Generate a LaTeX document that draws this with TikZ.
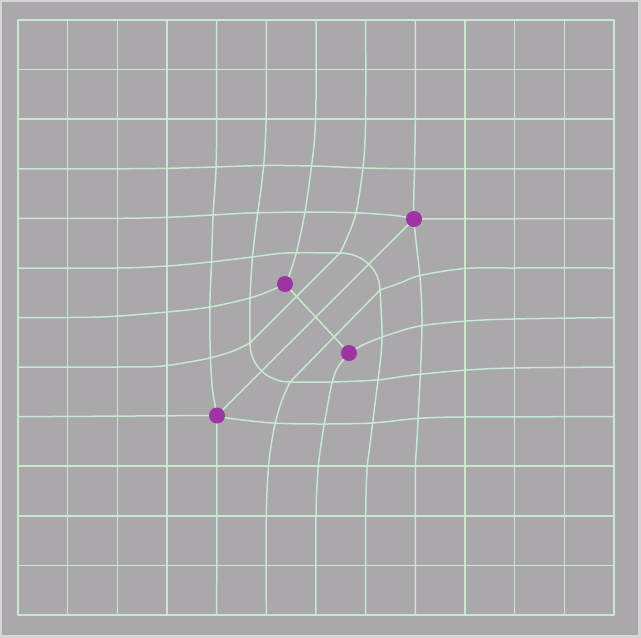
\documentclass[tikz,border=0pt]{standalone}
\definecolor{rimc}{RGB}{214,214,214}
\definecolor{bgc}{RGB}{170,168,170}
\definecolor{gl}{RGB}{198,233,208}
\definecolor{dotc}{RGB}{158,52,163}
\begin{document}
\begin{tikzpicture}[x=1pt,y=-1pt,
  gridline/.style={gl, line width=1.5pt, line join=round, line cap=round},
  sm/.style={gridline, smooth, tension=0.55},
  dot/.style={circle, fill=dotc, inner sep=0pt, minimum size=16pt}]
\useasboundingbox (0,0) rectangle (641,638);
\fill[rimc] (0,0) rectangle (641,638);
\fill[bgc] (2,2) rectangle (638,635);
% straight grid lines
\foreach \x in {18,67.7,117.3,167,465,514.7,564.3,614}
  \draw[gridline] (\x,20) -- (\x,615);
\foreach \y in {20,69.6,119.2,466.2,515.8,565.4,615}
  \draw[gridline] (18,\y) -- (614,\y);
% control points
\coordinate (p1) at (414,219);
\coordinate (p2) at (285,284);
\coordinate (p3) at (349,353);
\coordinate (p4) at (217,415.5);
% warped rows
\draw[sm] plot coordinates {(18,168.8) (117,168.8) (167,168.3) (215,167) (265,165.5) (313,166) (365,168) (415,168.8) (465,168.8) (614,168.8)};
\draw[sm] plot coordinates {(18,218.3) (117,218.3) (167,217.3) (213,215) (250,213) (313,212) (360,213) (395,215.5) (414,219)};
\draw[gridline] (p1) -- (614,218.5);
\draw[sm] plot coordinates {(18,268) (117,268) (167,266) (210,262) (252,257) (287,253) (340,253)};
\draw[gridline] (340,253) .. controls (363,253) and (380,270) .. (380,290);
\draw[sm] plot coordinates {(380,290) (400,283) (420,275.5) (465,268.5) (515,268) (614,268)};
\draw[sm] plot coordinates {(18,317.5) (100,317) (167,312) (210,307) (250,298) (272,290) (285,284)};
\draw[sm] plot coordinates {(349,353) (367,343) (397,332) (423,325.5) (467,321) (513,319) (614,317.5)};
\draw[sm] plot coordinates {(18,367) (117,367) (157,366.5) (183,363) (210,358) (233,351) (250,343)};
\draw[sm] plot coordinates {(290,382) (330,382) (377,380) (413,375) (467,370) (513,368) (614,367)};
\draw[gridline] (18,416.7) -- (p4);
\draw[sm] plot coordinates {(217,415.5) (227,418) (273,423) (323,424) (372,423) (417,418.5) (465,417) (614,416.7)};
% warped columns
\draw[sm] plot coordinates {(216.7,20) (216.7,119) (216,169) (213,217) (211.5,263) (210,300) (210,340) (212,385) (217,415.5)};
\draw[gridline] (p4) -- (216.7,615);
\draw[sm] plot coordinates {(266.3,20) (266.3,110) (264.5,155) (261.5,185) (257.5,215) (252.5,257) (250,300) (250,343)};
\draw[gridline] (250,343) .. controls (250,366) and (268,382) .. (290,382);
\draw[sm] plot coordinates {(290,382) (282,400) (276,420) (272,440) (268.5,467) (266.3,516) (266.3,615)};
\draw[sm] plot coordinates {(316,20) (316,100) (314.5,140) (311,170) (305,212) (297,250) (289,276) (285,284)};
\draw[sm] plot coordinates {(349,353) (338,367) (332,383) (325,420) (321,445) (318,470) (316,516) (316,615)};
\draw[sm] plot coordinates {(365.7,20) (365.7,110) (364.8,145) (362.5,172) (356,213) (347,238) (340,253)};
\draw[sm] plot coordinates {(380,290) (382,330) (381,355) (378,380) (373,420) (370,445) (367,470) (365.7,516) (365.7,615)};
\draw[sm] plot coordinates {(415.3,20) (415.3,119) (414.5,169) (414,219) (420,277) (422,317) (421,360) (419,400) (417,440) (415.5,466) (415.3,516) (415.3,615)};
% diagonals
\draw[gridline] (250,343) -- (340,253);
\draw[gridline] (290,382) -- (380,290);
% control lines
\draw[gridline] (p4) -- (p1);
\draw[gridline] (p2) -- (p3);
% dots
\node[dot] (d1) at (p1) {};
\node[dot] (d2) at (p2) {};
\node[dot] (d3) at (p3) {};
\node[dot] (d4) at (p4) {};
\end{tikzpicture}
\end{document}
